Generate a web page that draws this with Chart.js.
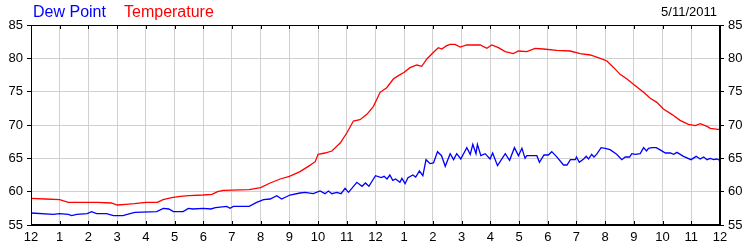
<!DOCTYPE html>
<html>
<head>
<meta charset="utf-8">
<script src="https://cdn.jsdelivr.net/npm/chart.js@4/dist/chart.umd.min.js"></script>
<style>
    html, body { margin: 0; padding: 0; background: #fff; }
    #wrap { position: relative; width: 750px; height: 250px; font-family: "Liberation Sans", Arial, sans-serif; }
    #grafico { position: absolute; left: 0; top: 0; }
    .legenda { position: absolute; top: 4px; font-size: 16px; line-height: 16px; }
    #data { position: absolute; top: 5px; right: 33px; font-size: 13px; line-height: 13px; color: #000; }
</style>
</head>
<body>
<div id="wrap">
    <canvas id="grafico" width="750" height="250"></canvas>
    <span class="legenda" style="left:33px;color:#0000ff">Dew Point</span>
    <span class="legenda" style="left:124px;color:#ff0000">Temperature</span>
    <span id="data">5/11/2011</span>
</div>
<script>
// ========== DADOS ==========

// rótulos do eixo x (horas do dia)
const hourLabels = ['12', '1', '2', '3', '4', '5', '6', '7', '8', '9', '10', '11',
    '12', '1', '2', '3', '4', '5', '6', '7', '8', '9', '10', '11', '12'];

// Temperatura (hora decimal, °F)
const tempHours = [0, 0.5, 1, 1.3, 2, 2.3, 2.8, 3, 3.3, 3.6, 4, 4.4, 4.6, 4.9, 5.2, 5.5, 6, 6.3, 6.5, 6.7,
    7.6, 8, 8.33, 8.68, 9, 9.37, 9.66, 9.9, 10, 10.24, 10.48, 10.77, 11, 11.23, 11.46, 11.7, 11.93,
    12.16, 12.39, 12.62, 12.8, 13, 13.2, 13.44, 13.61, 13.79, 14.02, 14.19, 14.31, 14.48, 14.6, 14.77,
    14.95, 15.18, 15.65, 15.88, 16.05, 16.28, 16.52, 16.8, 16.98, 17.27, 17.56, 17.85, 18.32, 18.78,
    19.13, 19.48, 19.83, 20.06, 20.3, 20.52, 20.76, 21.05, 21.34, 21.57, 21.8, 22.03, 22.32, 22.61,
    22.9, 23.14, 23.31, 23.55, 23.66, 24];
const tempValues = [59.0, 58.9, 58.8, 58.4, 58.4, 58.4, 58.3, 58.0, 58.1, 58.2, 58.4, 58.4, 58.8, 59.1, 59.3, 59.4, 59.5, 59.6, 60.0, 60.2,
    60.3, 60.6, 61.3, 61.9, 62.3, 63.0, 63.8, 64.5, 65.6, 65.8, 66.1, 67.3, 68.8, 70.6, 70.8, 71.6, 72.8,
    74.9, 75.6, 76.9, 77.4, 77.9, 78.6, 79.0, 78.8, 79.9, 80.9, 81.6, 81.4, 81.9, 82.1, 82.1,
    81.7, 82.0, 82.0, 81.5, 82.0, 81.6, 81.0, 80.7, 81.1, 81.0, 81.5, 81.4, 81.2, 81.1,
    80.7, 80.5, 80.0, 79.6, 78.6, 77.6, 76.9, 75.9, 74.9, 74.0, 73.4, 72.4, 71.6, 70.7,
    70.1, 69.9, 70.2, 69.8, 69.5, 69.3];

// Ponto de orvalho (hora decimal, °F)
const dewHours = [0, 0.78, 1, 1.3, 1.42, 1.59, 1.96, 2.11, 2.29, 2.63, 2.87, 3.2, 3.45, 3.62, 4.38, 4.61, 4.8, 4.96,
    5.3, 5.48, 5.65, 6, 6.26, 6.43, 6.82, 6.93, 7.05, 7.6, 7.86, 8.1, 8.33, 8.56, 8.73, 9.02, 9.37, 9.55,
    9.83, 10.07, 10.24, 10.36, 10.48, 10.65, 10.8, 10.94, 11.06, 11.35, 11.53, 11.65, 11.77, 12, 12.2,
    12.3, 12.4, 12.5, 12.6, 12.7, 12.85, 12.92, 13.03, 13.13, 13.3, 13.4, 13.53, 13.65, 13.76, 13.9,
    14.02, 14.16, 14.3, 14.43, 14.6, 14.72, 14.83, 14.97, 15.18, 15.3, 15.39, 15.5, 15.55, 15.67, 15.82,
    15.99, 16.08, 16.25, 16.52, 16.67, 16.84, 16.98, 17.1, 17.21, 17.27, 17.62, 17.71, 17.87, 18.02,
    18.14, 18.3, 18.55, 18.67, 18.79, 18.96, 19, 19.1, 19.25, 19.34, 19.42, 19.53, 19.61, 19.7, 19.86,
    20, 20.17, 20.4, 20.58, 20.7, 20.85, 20.93, 21.05, 21.22, 21.34, 21.44, 21.51, 21.63, 21.78, 21.9,
    22.1, 22.27, 22.39, 22.5, 22.73, 22.99, 23.17, 23.31, 23.43, 23.55, 23.66, 23.78, 23.89, 24];
const dewValues = [56.8, 56.6, 56.7, 56.6, 56.4, 56.6, 56.7, 57.0, 56.7, 56.7, 56.4, 56.4, 56.7, 56.9, 57.0, 57.5, 57.4, 57.0,
    57.0, 57.5, 57.4, 57.5, 57.4, 57.6, 57.8, 57.5, 57.8, 57.8, 58.4, 58.8, 58.9, 59.4, 58.9, 59.5, 59.8, 59.9,
    59.7, 60.1, 59.7, 60.1, 59.7, 59.9, 59.7, 60.5, 59.9, 61.4, 60.8, 61.3, 60.8, 62.4, 62.1,
    62.3, 61.9, 62.5, 61.7, 61.9, 61.4, 62.0, 61.2, 62.1, 62.5, 62.2, 63.1, 62.4, 64.8, 64.2,
    64.3, 66.0, 65.4, 63.8, 65.7, 64.8, 65.7, 64.9, 66.6, 65.6, 67.1, 65.7, 67.1, 65.4, 65.7,
    64.9, 65.8, 63.9, 65.7, 64.7, 66.6, 65.4, 66.5, 65.0, 65.4, 65.4, 64.4, 65.5, 65.5,
    66.0, 65.3, 64.0, 64.0, 64.8, 64.8, 65.2, 64.4, 64.9, 65.3, 64.9, 65.6, 65.2, 65.6, 66.6,
    66.5, 66.3, 65.6, 64.8, 65.2, 65.2, 65.7, 65.6, 65.7, 66.6, 66.1, 66.5, 66.6, 66.6, 66.3,
    65.8, 65.8, 65.6, 65.9, 65.3, 64.8, 65.3, 64.9, 65.2, 64.8, 65.0, 64.8, 64.9, 64.7];

// escala vertical
const yMin = 55, yMax = 85, yStep = 5;

// ========== GRÁFICO ==========

const toPoints = (xs, ys) => xs.map((x, i) => ({ x: x, y: ys[i] }));

// moldura preta + marcas internas no topo e na base
const moldura = {
    id: 'moldura',
    afterDraw(chart) {
        const { ctx, chartArea: a, scales } = chart;
        ctx.save();
        ctx.strokeStyle = '#000';
        ctx.lineWidth = 1;
        ctx.strokeRect(Math.round(a.left) + 0.5, Math.round(a.top) + 0.5,
            Math.round(a.right - a.left) - 1, Math.round(a.bottom - a.top) - 1);
        ctx.beginPath();
        scales.x.ticks.forEach(t => {
            const px = Math.round(scales.x.getPixelForValue(t.value)) + 0.5;
            ctx.moveTo(px, a.top); ctx.lineTo(px, a.top + 4);
            ctx.moveTo(px, a.bottom); ctx.lineTo(px, a.bottom - 4);
        });
        ctx.stroke();
        ctx.restore();
    }
};

const fonte = { family: '"Liberation Sans", Arial, sans-serif', size: 13 };

new Chart(document.getElementById('grafico'), {
    type: 'line',
    data: {
        datasets: [
            { label: 'Temperature', data: toPoints(tempHours, tempValues), borderColor: '#ff0000', borderWidth: 1.3, pointRadius: 0, tension: 0 },
            { label: 'Dew Point', data: toPoints(dewHours, dewValues), borderColor: '#0000ff', borderWidth: 1.3, pointRadius: 0, tension: 0 }
        ]
    },
    options: {
        responsive: false,
        animation: false,
        layout: { padding: { top: 25, left: 0, right: 0, bottom: 0 } },
        plugins: { legend: { display: false }, tooltip: { enabled: false } },
        scales: {
            x: {
                type: 'linear', min: 0, max: 24,
                afterFit: s => { s.height = 25; },
                ticks: { stepSize: 1, autoSkip: false, maxRotation: 0, padding: 5, color: '#000', font: fonte,
                    callback: v => hourLabels[v] },
                grid: { color: '#d0d0d0', drawTicks: false },
                border: { color: '#000' }
            },
            y: {
                position: 'left', min: yMin, max: yMax,
                afterFit: s => { s.width = 31; },
                ticks: { stepSize: yStep, padding: 4, color: '#000', font: fonte },
                grid: { color: '#d0d0d0', tickLength: 4, tickColor: '#000' },
                border: { color: '#000' }
            },
            y2: {
                position: 'right', min: yMin, max: yMax,
                afterFit: s => { s.width = 30; },
                ticks: { stepSize: yStep, padding: 4, color: '#000', font: fonte },
                grid: { drawOnChartArea: false, tickLength: 4, tickColor: '#000' },
                border: { color: '#000' }
            }
        }
    },
    plugins: [moldura]
});
</script>
</body>
</html>
